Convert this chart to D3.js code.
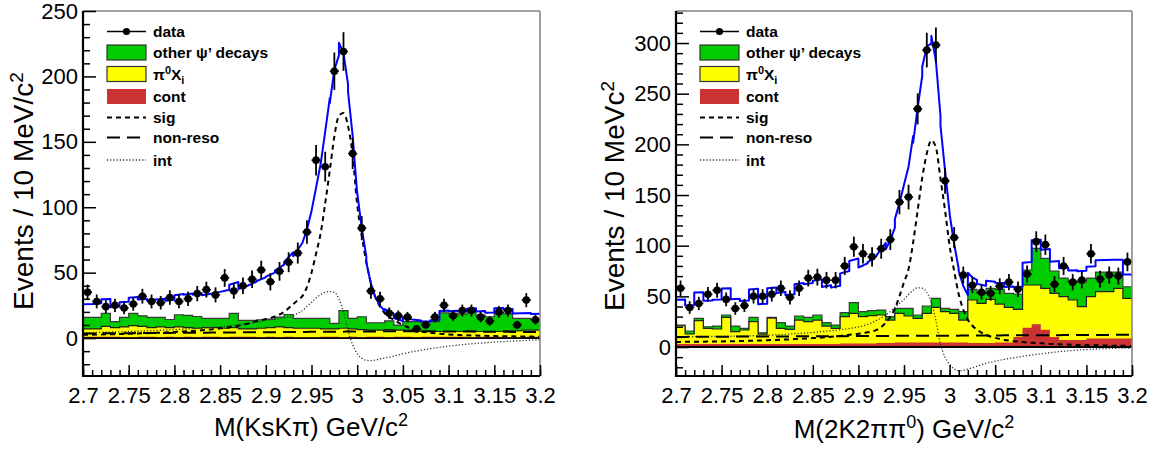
<!DOCTYPE html>
<html>
<head>
<meta charset="utf-8">
<script src="https://cdnjs.cloudflare.com/ajax/libs/d3/7.8.5/d3.min.js"></script>
<style>
body { margin: 0; background: #fff; }
text { font-family: "Liberation Sans", Arial, Helvetica, sans-serif; }
</style>
</head>
<body>
<div id="chart"></div>
<script>
var svgWidth = 1163;
var svgHeight = 453;

// 50 bins of 10 MeV from 2.70 to 3.20 GeV/c^2
var binLow = 2.70, binWidth = 0.01, nBins = 50;
var binEdges = d3.range(nBins + 1).map(i => +(binLow + i * binWidth).toFixed(3));
var binCenters = d3.range(nBins).map(i => +(binLow + (i + 0.5) * binWidth).toFixed(3));

var xTicks = [2.7, 2.75, 2.8, 2.85, 2.9, 2.95, 3.0, 3.05, 3.1, 3.15, 3.2];

// ---------- left panel: M(KsK pi) ----------
var ksData = [35, 28, 24, 25, 23, 26, 32, 28, 27, 31, 28, 30, 34, 37, 33, 46, 36, 40, 45, 52,
              43, 51, 58, 65, 81, 136, 131, 204, 219, 141, 84, 36, 30, 19, 17, 16, 7, 10, 16, 25,
              17, 21, 21, 16, 13, 20, 21, 10, 29, 14];
var ksOther = [8.8, 8.8, 9.8, 4.5, 7.3, 9.3, 8, 7.8, 7.3, 6.2, 9.3, 9.3, 9, 7, 7, 7.5, 10.8, 6.5, 6.5, 6.5,
               6.5, 7.5, 10, 7.5, 7.5, 7.5, 8, 4.2, 13.4, 8, 9.8, 5.7, 5.7, 6.7, 3.9, 6.5, 7, 6.7, 7.5, 14.3,
               13.8, 13.3, 14.5, 12.6, 11.3, 14.5, 13, 9.5, 9, 8.2];
var ksPi0 = [6, 6, 8, 7, 8, 9, 8, 7, 8, 7, 8, 7, 7, 7, 7, 7, 7, 6, 6, 7,
             7, 8, 7, 7, 7, 7, 6, 6, 7, 6, 6, 5, 5, 6, 5, 5, 5, 4, 4, 4,
             4, 4, 5, 4, 4, 4, 5, 5, 5, 5];
var ksCont = [1, 1, 1, 1, 0.5, 0.5, 1, 1, 0.5, 1, 0.5, 1, 0.5, 1, 1, 0.5, 1, 1, 1, 0.5,
              1, 0.5, 1, 0.5, 0.5, 0.5, 1, 1, 0.5, 1, 0.5, 1, 1, 0.5, 1, 1, 0.5, 1, 1, 1,
              1, 1, 0.5, 1, 1, 1, 0.5, 0.5, 1, 1];

// fitted curves, read at these masses
var curveMass = [2.70, 2.71, 2.72, 2.73, 2.74, 2.75, 2.76, 2.77, 2.78, 2.79, 2.80, 2.81, 2.82, 2.83, 2.84,
                 2.85, 2.86, 2.87, 2.88, 2.89, 2.90, 2.91, 2.92, 2.93, 2.935, 2.94, 2.945, 2.95, 2.955, 2.96,
                 2.965, 2.97, 2.975, 2.98, 2.985, 2.99, 2.995, 3.00, 3.005, 3.01, 3.015, 3.02, 3.025, 3.03,
                 3.04, 3.05, 3.06, 3.07, 3.08, 3.09, 3.10, 3.11, 3.12, 3.13, 3.14, 3.15, 3.16, 3.17, 3.18,
                 3.19, 3.20];
var ksSig = [2.5, 2.6, 2.8, 2.9, 3.1, 3.3, 3.5, 3.7, 4.0, 4.3, 4.6, 5.0, 5.4, 6.0, 6.6, 7.4, 8.3, 9.5, 11, 13,
             14.5, 16.5, 20, 26, 29, 32, 39, 50, 64.5, 80, 103, 128, 154, 170, 172, 162, 140, 102, 78, 58,
             42, 31, 24, 19, 14, 10, 7, 5, 4, 3.3, 2.8, 2.4, 2.1, 1.9, 1.7, 1.5, 1.4, 1.3, 1.2, 1.1, 1.0];
var ksNonReso = [3.5, 3.5, 3.6, 3.6, 3.7, 3.7, 3.8, 3.8, 3.9, 3.9, 4.0, 4.0, 4.1, 4.1, 4.2, 4.2, 4.3, 4.3, 4.4, 4.4,
                 4.5, 4.5, 4.6, 4.6, 4.7, 4.7, 4.7, 4.8, 4.8, 4.8, 4.8, 4.9, 4.9, 4.9, 4.9, 5.0, 5.0, 5.0, 5.0, 5.1,
                 5.1, 5.1, 5.1, 5.2, 5.2, 5.2, 5.2, 5.2, 5.2, 5.1, 5.1, 5.0, 5.0, 4.9, 4.9, 4.8, 4.8, 4.7, 4.7, 4.6, 4.6];
var ksInt = [4.0, 4.2, 4.4, 4.6, 4.8, 5.0, 5.2, 5.5, 5.8, 6.1, 6.4, 6.8, 7.2, 7.6, 8.1, 8.7, 9.4, 10.2, 11.1, 12.2,
             13.4, 14.5, 15.5, 17, 19, 21, 24.3, 27.2, 30.7, 33.2, 35, 35.5, 35, 30, 20, 6, -5, -12, -15.5, -17,
             -17.3, -16.8, -16, -15.2, -13.8, -12, -10.5, -9.2, -8.1, -7.1, -6.2, -5.4, -4.7, -4.1, -3.6, -3.1, -2.7, -2.3, -2.0, -1.6, -1.3];

// ---------- right panel: M(2K2pi pi0) ----------
var kkData = [58, 39, 43, 52, 56, 47, 38, 41, 50, 50, 52, 58, 49, 58, 68, 69, 66, 66, 80, 99,
              92, 89, 97, 106, 143, 148, 235, 293, 298, 164, 108, 71, 61, 54, 53, 60, 64, 57, 72, 104,
              101, 62, 80, 64, 66, 92, 67, 71, 70, 84];
var kkOther = [0.7, 2.8, 2.3, 1.6, 2.9, 2.3, 5.6, 1.6, 4.3, 1.3, 0.7, 5.6, 3.3, 4, 4.3, 5, 3.3, 3.3, 4, 10.6,
               5, 5, 4.9, 3.3, 5, 7.6, 3.3, 7.3, 8.9, 3.3, 4, 8.3, 10.5, 9.9, 10.9, 14.5, 13.9, 15.1, 14.8, 36.2,
               29.6, 22, 18.3, 18.6, 24.2, 18.3, 19.4, 19.4, 16.1, 11.5];
var kkPi0 = [18, 10, 23, 15.4, 14.8, 26.3, 12.1, 13.8, 22, 9.8, 25.6, 15.4, 14.4, 23.6, 22, 23.6, 17.7, 15.4, 26.4, 29.7,
             26.4, 27.4, 27.6, 22.6, 28.7, 26.1, 23.8, 28.7, 34.6, 30.4, 28.7, 22.1, 42.4, 39.1, 43, 37.9, 34.6, 27.2, 42.2, 38.7,
             40.9, 43, 42.7, 39.4, 32.8, 41.2, 46.1, 46.1, 49.4, 39.5];
var kkCont = [3, 3, 3, 3, 3, 3, 3, 3, 3, 3, 3, 3, 3, 3, 3, 3, 3, 3, 3.5, 3.5,
              3.5, 3.5, 4, 4, 4.5, 4.5, 4.5, 4.5, 4.5, 4.5, 4.5, 4.5, 4, 4, 4, 4.5, 4.5, 10, 19, 22.5,
              17, 10, 7, 7, 7, 8.5, 8.5, 8.5, 8.5, 8.5];
var kkSig = [5.0, 5.1, 5.2, 5.3, 5.4, 5.5, 5.7, 5.9, 6.1, 6.4, 6.7, 7.0, 7.4, 7.8, 8.3, 8.8, 9.4, 10.1, 11.0, 12.0,
             13.0, 14.5, 17, 24, 30, 38, 50, 64, 77, 103, 135, 167, 191, 204, 197, 166, 135, 100, 75, 52,
             37, 27, 21, 17, 12, 9, 7, 5.8, 4.9, 4.2, 3.6, 3.1, 2.7, 2.4, 2.1, 1.9, 1.7, 1.5, 1.3, 1.2, 1.0];
var kkNonReso = [10.0, 10.0, 10.1, 10.1, 10.2, 10.2, 10.2, 10.3, 10.3, 10.4, 10.4, 10.4, 10.5, 10.5, 10.6, 10.6, 10.6, 10.7, 10.7, 10.8,
                 10.8, 10.8, 10.9, 10.9, 10.9, 11.0, 11.0, 11.0, 11.0, 11.0, 11.1, 11.1, 11.1, 11.1, 11.1, 11.2, 11.2, 11.2, 11.2, 11.2,
                 11.3, 11.3, 11.3, 11.3, 11.4, 11.4, 11.5, 11.5, 11.5, 11.6, 11.6, 11.7, 11.7, 11.8, 11.8, 11.8, 11.9, 11.9, 12.0, 12.0, 12.0];
var kkInt = [10.0, 10.1, 10.2, 10.3, 10.4, 10.5, 10.6, 10.8, 11.0, 11.3, 11.6, 12.0, 12.5, 13.1, 13.7, 14.4, 15.2, 16.1, 17.1, 18.3,
             19.8, 22.3, 26.3, 31.5, 35, 39, 43, 47, 52, 56, 58.5, 58, 54, 44, 26, 3, -10, -17, -21.5, -23.4,
             -23, -21.8, -20.5, -19, -16, -14, -12.2, -10.6, -9.2, -7.9, -6.7, -5.6, -4.6, -3.8, -3.1, -2.5, -2.0, -1.6, -1.3, -1.1, -1.0];

// legend entries
var legendLabels = ["data", "other \u03c8\u2019 decays", "\u03c0^0X_i", "cont", "sig", "non-reso", "int"];

var colors = { other: "#00cc00", pi0: "#ffff00", cont: "#cc3333", fit: "#0000ff" };
var fontFamily = "'Liberation Sans', Arial, Helvetica, sans-serif";

var panels = [
    {
        id: "ks", left: 83, right: 540, top: 11, bottom: 376,
        yDomain: [-29, 250], yMajor: d3.range(0, 251, 50), yMinor: d3.range(-20, 251, 10),
        data: ksData, other: ksOther, pi0: ksPi0, cont: ksCont,
        sig: ksSig, nonReso: ksNonReso, intf: ksInt,
        yTitle: ["Events / 10 MeV/c", "2"], yTitleX: 33, yTitleY: 191,
        xTitle: [["M(KsK\u03c0) GeV/c", 0], ["2", 1]], xTitleX: 311, xTitleY: 436,
        legendX: 107
    },
    {
        id: "kk", left: 676, right: 1132, top: 11, bottom: 376,
        yDomain: [-28.6, 331.6], yMajor: d3.range(0, 301, 50), yMinor: d3.range(-20, 331, 10),
        data: kkData, other: kkOther, pi0: kkPi0, cont: kkCont,
        sig: kkSig, nonReso: kkNonReso, intf: kkInt,
        yTitle: ["Events / 10 MeVc", "2"], yTitleX: 624, yTitleY: 196,
        xTitle: [["M(2K2\u03c0\u03c0", 0], ["0", 1], [") GeV/c", 0], ["2", 1]], xTitleX: 904, xTitleY: 438,
        legendX: 700
    }
];

var svg = d3.select("#chart")
    .append("svg")
    .attr("width", svgWidth)
    .attr("height", svgHeight)
    .style("background", "#fff");

function drawPanel(p) {
    var xScale = d3.scaleLinear().domain([2.7, 3.2]).range([p.left, p.right]);
    var yScale = d3.scaleLinear().domain(p.yDomain).range([p.bottom, p.top]);
    var g = svg.append("g");

    g.append("clipPath").attr("id", "clip-" + p.id)
        .append("rect")
        .attr("x", p.left).attr("y", p.top)
        .attr("width", p.right - p.left).attr("height", p.bottom - p.top);
    var plot = g.append("g").attr("clip-path", "url(#clip-" + p.id + ")");

    // stacked backgrounds: cont, pi0 X_i, other psi' decays
    var rows = d3.range(nBins).map(i => ({ cont: p.cont[i], pi0: p.pi0[i], other: p.other[i] }));
    var series = d3.stack().keys(["cont", "pi0", "other"])(rows);
    var tops = {};
    series.forEach(s => { tops[s.key] = s.map(d => d[1]); });

    var stepArea = d3.area()
        .x(d => xScale(d.x)).y0(yScale(0)).y1(d => yScale(d.y))
        .curve(d3.curveStepAfter);
    var stepLine = d3.line()
        .x(d => xScale(d.x)).y(d => yScale(d.y))
        .curve(d3.curveStepAfter);

    [["other", colors.other, "#3a3a3a"], ["pi0", colors.pi0, "#222"], ["cont", colors.cont, "none"]]
        .forEach(function (layer) {
            var vals = tops[layer[0]];
            var pts = binEdges.map((e, i) => ({ x: e, y: vals[Math.min(i, nBins - 1)] }));
            plot.append("path").datum(pts)
                .attr("d", stepArea)
                .attr("fill", layer[1]);
            if (layer[2] !== "none") {
                plot.append("path").datum(pts)
                    .attr("d", stepLine)
                    .attr("fill", "none")
                    .attr("stroke", layer[2])
                    .attr("stroke-width", 1.2);
            }
        });

    // zero line
    g.append("line")
        .attr("x1", p.left).attr("x2", p.right)
        .attr("y1", yScale(0)).attr("y2", yScale(0))
        .attr("stroke", "#000").attr("stroke-width", 1.8);

    // fit components
    var smooth = d3.line()
        .x(d => xScale(d[0])).y(d => yScale(d[1]))
        .curve(d3.curveMonotoneX);
    var comp = [
        [p.intf, "#333", 1.3, "1.2,2"],
        [p.nonReso, "#000", 2, "13,7"],
        [p.sig, "#000", 2, "5,4"]
    ];
    comp.forEach(function (c) {
        plot.append("path")
            .datum(curveMass.map((m, i) => [m, c[0][i]]))
            .attr("d", smooth)
            .attr("fill", "none")
            .attr("stroke", c[1])
            .attr("stroke-width", c[2])
            .attr("stroke-dasharray", c[3]);
    });

    // total fit = stacked backgrounds + sig + non-reso + int (steps at bin edges)
    var total = tops.other;
    var fitPts = [];
    curveMass.forEach(function (m, i) {
        var fit = p.sig[i] + p.nonReso[i] + p.intf[i];
        var k = Math.round((m - binLow) / binWidth * 2) / 2;
        if (k % 1 === 0) {
            if (k > 0) fitPts.push([m, total[k - 1] + fit]);
            if (k < nBins) fitPts.push([m, total[k] + fit]);
        } else {
            fitPts.push([m, total[Math.floor(k)] + fit]);
        }
    });
    plot.append("path")
        .datum(fitPts)
        .attr("d", d3.line().x(d => xScale(d[0])).y(d => yScale(d[1])))
        .attr("fill", "none")
        .attr("stroke", colors.fit)
        .attr("stroke-width", 2)
        .attr("stroke-linejoin", "round");

    // data points with errors
    var pts = g.append("g").selectAll("g")
        .data(p.data.map((v, i) => ({ x: binCenters[i], y: v })))
        .enter().append("g");
    pts.append("line")
        .attr("x1", d => xScale(d.x)).attr("x2", d => xScale(d.x))
        .attr("y1", d => yScale(d.y + Math.sqrt(d.y))).attr("y2", d => yScale(d.y - Math.sqrt(d.y)))
        .attr("stroke", "#000").attr("stroke-width", 1.8);
    pts.append("line")
        .attr("x1", d => xScale(d.x - binWidth / 2)).attr("x2", d => xScale(d.x + binWidth / 2))
        .attr("y1", d => yScale(d.y)).attr("y2", d => yScale(d.y))
        .attr("stroke", "#000").attr("stroke-width", 1.5);
    pts.append("circle")
        .attr("cx", d => xScale(d.x)).attr("cy", d => yScale(d.y))
        .attr("r", 3.8).attr("fill", "#000");

    // frame
    g.append("line").attr("x1", p.left).attr("x2", p.right).attr("y1", p.top).attr("y2", p.top)
        .attr("stroke", "#808080").attr("stroke-width", 1.5);
    g.append("line").attr("x1", p.right).attr("x2", p.right).attr("y1", p.top).attr("y2", p.bottom)
        .attr("stroke", "#808080").attr("stroke-width", 1.5);

    // axes (ticks point inward)
    var yAxis = g.append("g")
        .attr("transform", `translate(${p.left},0)`)
        .call(d3.axisLeft(yScale).tickValues(p.yMajor).tickSizeInner(-13).tickSizeOuter(0).tickPadding(5));
    g.append("g")
        .attr("transform", `translate(${p.left},0)`)
        .call(d3.axisLeft(yScale).tickValues(p.yMinor.filter(v => v % 50 !== 0)).tickSizeInner(-7).tickSizeOuter(0).tickFormat(""))
        .select(".domain").remove();
    var xAxis = g.append("g")
        .attr("transform", `translate(0,${p.bottom})`)
        .call(d3.axisBottom(xScale).tickValues(xTicks).tickSizeInner(-11).tickSizeOuter(0).tickPadding(11)
            .tickFormat(d => String(+d.toFixed(2))));
    g.append("g")
        .attr("transform", `translate(0,${p.bottom})`)
        .call(d3.axisBottom(xScale).tickValues(binEdges).tickSizeInner(-6).tickSizeOuter(0).tickFormat(""))
        .select(".domain").remove();
    [yAxis, xAxis].forEach(function (a) {
        a.attr("font-size", 22).attr("font-family", fontFamily);
        a.select(".domain").remove();
    });
    g.selectAll(".tick line").attr("stroke", "#000").attr("stroke-width", 1.5);
    g.append("line").attr("x1", p.left).attr("x2", p.left).attr("y1", p.top).attr("y2", p.bottom + 1)
        .attr("stroke", "#000").attr("stroke-width", 2.2);
    g.append("line").attr("x1", p.left - 1).attr("x2", p.right).attr("y1", p.bottom).attr("y2", p.bottom)
        .attr("stroke", "#000").attr("stroke-width", 2.2);

    // axis titles
    var yt = g.append("text")
        .attr("transform", `translate(${p.yTitleX},${p.yTitleY}) rotate(-90)`)
        .attr("text-anchor", "middle")
        .attr("font-size", 28)
        .text(p.yTitle[0]);
    yt.append("tspan").attr("dy", -10).attr("font-size", 19).text(p.yTitle[1]);

    var xt = g.append("text")
        .attr("x", p.xTitleX).attr("y", p.xTitleY)
        .attr("text-anchor", "middle")
        .attr("font-size", 26);
    var raised = false;
    p.xTitle.forEach(function (part) {
        var dy = 0;
        if (part[1] && !raised) { dy = -10; raised = true; }
        else if (!part[1] && raised) { dy = 10; raised = false; }
        xt.append("tspan")
            .attr("dy", dy)
            .attr("font-size", part[1] ? 18 : 26)
            .text(part[0]);
    });

    // legend
    var lg = g.append("g").attr("font-size", 15.5).attr("font-weight", "bold");
    var rowY = [31.5, 52.5, 74, 96.5, 117.5, 137.5, 160];
    var x0 = p.legendX, x1 = p.legendX + 39;
    lg.append("line").attr("x1", x0).attr("x2", x1).attr("y1", rowY[0]).attr("y2", rowY[0])
        .attr("stroke", "#000").attr("stroke-width", 1.5);
    lg.append("circle").attr("cx", (x0 + x1) / 2).attr("cy", rowY[0]).attr("r", 3.6).attr("fill", "#000");
    [[colors.other, "#333"], [colors.pi0, "#333"], [colors.cont, "none"]].forEach(function (b, i) {
        lg.append("rect")
            .attr("x", x0).attr("y", rowY[i + 1] - 7.5)
            .attr("width", x1 - x0).attr("height", 15)
            .attr("fill", b[0])
            .attr("stroke", b[1]).attr("stroke-width", 1.2);
    });
    [["#000", 2, "5,4"], ["#000", 2, "13,7"], ["#333", 1.3, "1.2,2"]].forEach(function (s, i) {
        lg.append("line")
            .attr("x1", x0).attr("x2", x1)
            .attr("y1", rowY[i + 4]).attr("y2", rowY[i + 4])
            .attr("stroke", s[0]).attr("stroke-width", s[1]).attr("stroke-dasharray", s[2]);
    });
    legendLabels.forEach(function (lab, i) {
        var t = lg.append("text").attr("x", x1 + 7).attr("y", rowY[i] + 5.5);
        if (lab.indexOf("^") >= 0) {
            t.append("tspan").text("\u03c0");
            t.append("tspan").attr("dy", -6).attr("font-size", 11).text("0");
            t.append("tspan").attr("dy", 6).text("X");
            t.append("tspan").attr("dy", 4).attr("font-size", 11).text("i");
        } else {
            t.text(lab);
        }
    });
}

panels.forEach(drawPanel);
</script>
</body>
</html>
